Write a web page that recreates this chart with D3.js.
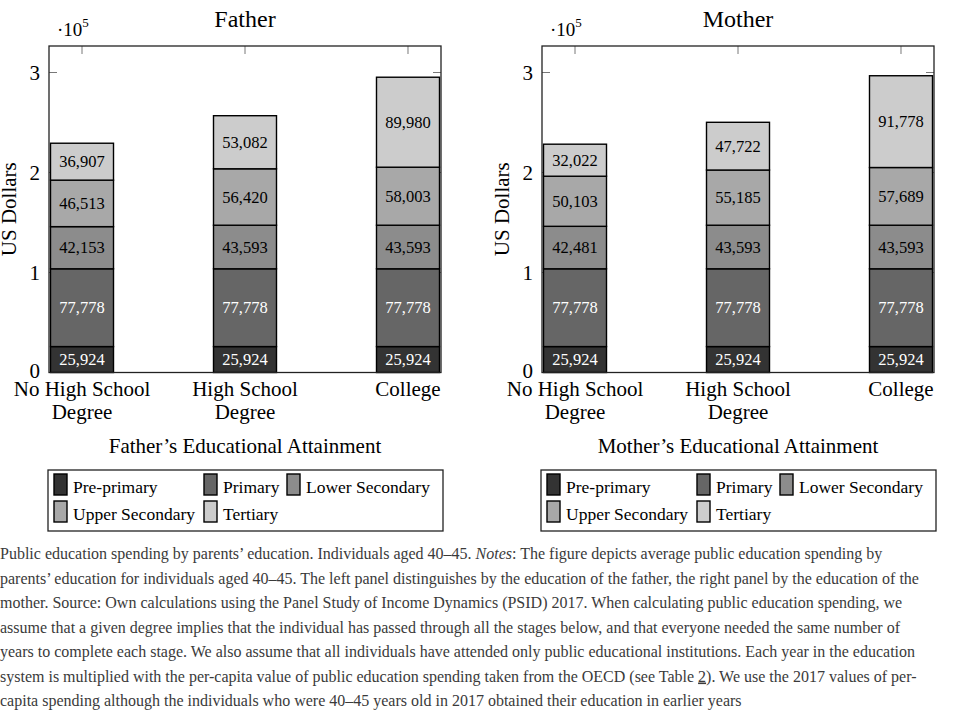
<!DOCTYPE html>
<meta charset="utf-8">
<style>
body { margin: 0; background: #fff; }
svg text { font-family: "Liberation Serif", "Times New Roman", serif; fill: #000; }
.caption text { fill: #3a3a3a; font-size: 16px; }
</style>
<body>
<script src="https://d3js.org/d3.v7.min.js"></script>
<script>

// education categories on the x axis (lines split with |)
var categories = ["No High School|Degree", "High School|Degree", "College"];

// spending stages, bottom to top
var stages = ["Pre-primary", "Primary", "Lower Secondary", "Upper Secondary", "Tertiary"];
var stageColors = ["#333333", "#666666", "#8c8c8c", "#a8a8a8", "#cccccc"];
var labelColors = ["#fff", "#fff", "#000", "#000", "#000"];

// father panel values, one array per stage
var fatherPrePrimary = [25924, 25924, 25924];
var fatherPrimary = [77778, 77778, 77778];
var fatherLowerSecondary = [42153, 43593, 43593];
var fatherUpperSecondary = [46513, 56420, 58003];
var fatherTertiary = [36907, 53082, 89980];

// mother panel values
var motherPrePrimary = [25924, 25924, 25924];
var motherPrimary = [77778, 77778, 77778];
var motherLowerSecondary = [42481, 43593, 43593];
var motherUpperSecondary = [50103, 55185, 57689];
var motherTertiary = [32022, 47722, 91778];

var yTicks = [0, 100000, 200000, 300000];

var captionLines = [
    ["Public education spending by parents’ education. Individuals aged 40–45. ", "Notes", ": The figure depicts average public education spending by"],
    ["parents’ education for individuals aged 40–45. The left panel distinguishes by the education of the father, the right panel by the education of the"],
    ["mother. Source: Own calculations using the Panel Study of Income Dynamics (PSID) 2017. When calculating public education spending, we"],
    ["assume that a given degree implies that the individual has passed through all the stages below, and that everyone needed the same number of"],
    ["years to complete each stage. We also assume that all individuals have attended only public educational institutions. Each year in the education"],
    ["system is multiplied with the per-capita value of public education spending taken from the OECD (see Table ", "2", "). We use the 2017 values of per-"],
    ["capita spending although the individuals who were 40–45 years old in 2017 obtained their education in earlier years"]
];

var svg = d3.select("body").append("svg")
    .attr("width", 962)
    .attr("height", 715);

var fmt = d3.format(",");

function drawPanel(left, title, xTitle, series) {
    var width = 392, top = 46, bottom = 372.5;

    var g = svg.append("g").attr("transform", "translate(" + left + ",0)");

    var x = d3.scalePoint()
        .domain(categories)
        .range([0, width])
        .padding(0.2025);
    var barW = 63;

    var y = d3.scaleLinear()
        .domain([0, 326500])
        .range([bottom, top]);

    // stack the rows
    var rows = categories.map(function (c, i) {
        var r = {cat: c};
        stages.forEach(function (s, j) { r[s] = series[j][i]; });
        return r;
    });
    var stacked = d3.stack().keys(stages)(rows);

    // ticks (drawn first, bars cover most of them)
    var tk = g.append("g").attr("stroke", "#555").attr("stroke-width", 0.8);
    yTicks.forEach(function (t) {
        tk.append("line").attr("x1", 0).attr("x2", 8).attr("y1", y(t)).attr("y2", y(t));
        tk.append("line").attr("x1", width - 8).attr("x2", width).attr("y1", y(t)).attr("y2", y(t));
    });
    categories.forEach(function (c) {
        tk.append("line").attr("x1", x(c)).attr("x2", x(c)).attr("y1", top).attr("y2", top + 8);
        tk.append("line").attr("x1", x(c)).attr("x2", x(c)).attr("y1", bottom).attr("y2", bottom - 8);
    });

    // bars
    var layer = g.selectAll(".layer")
        .data(stacked)
        .enter().append("g")
        .attr("class", "layer");

    layer.selectAll("rect")
        .data(function (d) { return d; })
        .enter().append("rect")
        .attr("x", function (d) { return x(d.data.cat) - barW / 2; })
        .attr("width", barW)
        .attr("y", function (d) { return y(d[1]); })
        .attr("height", function (d) { return y(d[0]) - y(d[1]); })
        .attr("fill", function () { return stageColors[d3.select(this.parentNode).datum().index]; })
        .attr("stroke", "#000")
        .attr("stroke-width", 1.4);

    layer.selectAll("text")
        .data(function (d) { return d; })
        .enter().append("text")
        .attr("x", function (d) { return x(d.data.cat); })
        .attr("y", function (d) { return (y(d[0]) + y(d[1])) / 2; })
        .attr("dy", "0.35em")
        .attr("text-anchor", "middle")
        .style("font-size", "16.5px")
        .style("fill", function () { return labelColors[d3.select(this.parentNode).datum().index]; })
        .text(function (d) { return fmt(d[1] - d[0]); });

    // frame
    g.append("rect")
        .attr("x", 0).attr("y", top)
        .attr("width", width).attr("height", bottom - top)
        .attr("fill", "none")
        .attr("stroke", "#222")
        .attr("stroke-width", 1.3);

    // y tick labels
    g.selectAll(".ylab")
        .data(yTicks)
        .enter().append("text")
        .attr("x", -9)
        .attr("y", function (d) { return y(d) - (d === 0 ? 1.5 : 0); })
        .attr("dy", "0.35em")
        .attr("text-anchor", "end")
        .style("font-size", "21px")
        .text(function (d) { return d / 100000; });

    // scale marker
    var sm = g.append("text").attr("x", 8).attr("y", 36).style("font-size", "19px");
    sm.append("tspan").text("·10");
    sm.append("tspan").attr("dy", -9).style("font-size", "13px").text("5");

    // x tick labels
    categories.forEach(function (c) {
        var parts = c.split("|");
        var t = g.append("text")
            .attr("x", x(c))
            .attr("y", 396)
            .attr("text-anchor", "middle")
            .style("font-size", "21px");
        parts.forEach(function (p, i) {
            t.append("tspan").attr("x", x(c)).attr("dy", i === 0 ? 0 : 23).text(p);
        });
    });

    // titles
    g.append("text")
        .attr("x", width / 2).attr("y", 27)
        .attr("text-anchor", "middle")
        .style("font-size", "24px")
        .text(title);

    g.append("text")
        .attr("x", width / 2).attr("y", 453)
        .attr("text-anchor", "middle")
        .style("font-size", "21px")
        .text(xTitle);

    g.append("text")
        .attr("transform", "translate(-33," + (top + bottom) / 2 + ") rotate(-90)")
        .attr("text-anchor", "middle")
        .style("font-size", "21px")
        .text("US Dollars");

    // legend
    var lg = g.append("g").attr("transform", "translate(-1,470)");
    lg.append("rect")
        .attr("width", 395).attr("height", 61)
        .attr("fill", "#fff")
        .attr("stroke", "#222")
        .attr("stroke-width", 1.3);
    var colX = [6, 156, 239];
    stages.forEach(function (s, i) {
        var row = Math.floor(i / 3), col = i % 3;
        var item = lg.append("g").attr("transform", "translate(" + colX[col] + "," + (4 + row * 27) + ")");
        item.append("rect")
            .attr("width", 13).attr("height", 21)
            .attr("fill", stageColors[i])
            .attr("stroke", "#000")
            .attr("stroke-width", 1.4);
        item.append("text")
            .attr("x", 19).attr("y", 19)
            .style("font-size", "17.5px")
            .text(s);
    });
}

drawPanel(49, "Father", "Father’s Educational Attainment",
    [fatherPrePrimary, fatherPrimary, fatherLowerSecondary, fatherUpperSecondary, fatherTertiary]);
drawPanel(542, "Mother", "Mother’s Educational Attainment",
    [motherPrePrimary, motherPrimary, motherLowerSecondary, motherUpperSecondary, motherTertiary]);

// caption
var cap = svg.append("g").attr("class", "caption");
captionLines.forEach(function (parts, i) {
    var t = cap.append("text").attr("x", 0).attr("y", 559 + i * 24.5);
    parts.forEach(function (p, j) {
        var ts = t.append("tspan").text(p);
        if (i === 0 && j === 1) ts.style("font-style", "italic");
        if (i === 5 && j === 1) ts.style("text-decoration", "underline");
    });
});

</script>
</body>
